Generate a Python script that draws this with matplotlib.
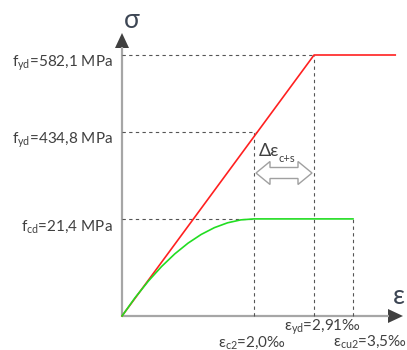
import matplotlib
matplotlib.use('Agg')
import matplotlib.pyplot as plt
from matplotlib.patches import Polygon

# strains in per mille, stress levels drawn schematically (not to scale)
eps_c2 = 2.0
eps_yd = 2.91
eps_cu2 = 3.5
eps_end = 4.14

stress_labels = ['582,1', '434,8', '21,4']
stress_names = ['yd', 'yd', 'cd']
stress_pos = [1.0, 0.705, 0.372]   # f_yd (top), f_yd, f_cd

# steel: bilinear
steel_eps = [0.0, eps_yd, eps_end]
steel_sig = [0.0, 1.0, 1.0]

# concrete: parabola-rectangle (fraction of f_cd)
conc_eps = [0.0, 0.2, 0.4, 0.6, 0.8, 1.0, 1.2, 1.4, 1.6, 1.8, 2.0, 3.5]
conc_frac = [0.0, 0.19, 0.36, 0.51, 0.64, 0.75, 0.84, 0.91, 0.96, 0.99, 1.0, 1.0]

plt.rcParams['font.family'] = ['Lato', 'DejaVu Sans']
plt.rcParams['mathtext.fontset'] = 'custom'
plt.rcParams['mathtext.rm'] = 'Lato'
plt.rcParams['mathtext.it'] = 'Lato:italic'

W, H = 407, 350
X0, Y0 = 122, 316        # origin in pixels
SX, SY = 66.0, 261.0     # pixels per unit

fig = plt.figure(figsize=(W / 100, H / 100), dpi=100)
ax = fig.add_axes([0, 0, 1, 1])
ax.set_xlim(-X0 / SX, (W - X0) / SX)
ax.set_ylim(-(H - Y0) / SY, Y0 / SY)
ax.axis('off')


def d(px, py):
    # pixel -> data, for decoration only
    return (px - X0) / SX, (Y0 - py) / SY


txt = '#404040'
dash = '#555555'
axis_c = '#a6a6a6'

# axes with arrow heads
ax.plot([0, d(389, 0)[0]], [0, 0], color=axis_c, lw=1.6, solid_capstyle='butt')
ax.plot([0, 0], [0, d(0, 47)[1]], color=axis_c, lw=1.6, solid_capstyle='butt')
ax.add_patch(Polygon([d(403, 316), d(388, 309), d(388, 323)], closed=True,
                     fc='#404040', ec='none'))
ax.add_patch(Polygon([d(122, 33), d(115, 48), d(129, 48)], closed=True,
                     fc='#404040', ec='none'))

dash_kw = dict(color=dash, lw=0.8, dashes=(3, 3))
# horizontal guides
ax.plot([0, eps_yd], [stress_pos[0]] * 2, **dash_kw)
ax.plot([0, eps_yd * stress_pos[1]], [stress_pos[1]] * 2, **dash_kw)
ax.plot([0, eps_c2], [stress_pos[2]] * 2, **dash_kw)
# vertical guides
ax.plot([eps_c2, eps_c2], [0, stress_pos[1]], **dash_kw)
ax.plot([eps_yd, eps_yd], [0, stress_pos[0]], **dash_kw)
ax.plot([eps_cu2, eps_cu2], [0, stress_pos[2]], **dash_kw)

# curves
ax.plot(steel_eps, steel_sig, color='#ff2020', lw=1.2, zorder=5)
ax.plot(conc_eps, [f * stress_pos[2] for f in conc_frac], color='#22dd22', lw=1.2, zorder=5)

# stress labels
for lab, name, y in zip(stress_labels, stress_names, stress_pos):
    ax.annotate(r'f$_{\mathrm{%s}}$=%s MPa' % (name, lab), xy=(0, y),
                xytext=(-9, -8), textcoords='offset pixels',
                ha='right', va='center', fontsize=11, color=txt)

# strain labels
ax.annotate(r'ε$_{\mathrm{c2}}$=2,0‰', xy=d(252, 343), ha='center', va='center',
            fontsize=11, color=txt)
ax.annotate(r'ε$_{\mathrm{yd}}$=2,91‰', xy=d(322, 327), ha='center', va='center',
            fontsize=11, color=txt)
ax.annotate(r'ε$_{\mathrm{cu2}}$=3,5‰', xy=d(370, 342), ha='center', va='center',
            fontsize=11, color=txt)

# axis symbols
ax.text(*d(132, 20), 'σ', fontsize=19, color='#3d4654', ha='center', va='center')
ax.text(*d(399, 297), 'ε', fontsize=19, color='#3d4654', ha='center', va='center')

# delta epsilon and hollow double arrow
ax.text(*d(259, 151), 'Δε', fontsize=13, color=txt, ha='left', va='center')
ax.text(*d(279, 158), 'c+s', fontsize=8, color=txt, ha='left', va='center')
xl, xr, yc = 256, 312, 173
hh, sh, hl = 11.5, 5.5, 14
arrow = [d(xl, yc), d(xl + hl, yc - hh), d(xl + hl, yc - sh), d(xr - hl, yc - sh),
         d(xr - hl, yc - hh), d(xr, yc), d(xr - hl, yc + hh), d(xr - hl, yc + sh),
         d(xl + hl, yc + sh), d(xl + hl, yc + hh)]
ax.add_patch(Polygon(arrow, closed=True, fc='white', ec='#a0a0a0', lw=1.0, zorder=6))

fig.savefig('out.png', dpi=100)
